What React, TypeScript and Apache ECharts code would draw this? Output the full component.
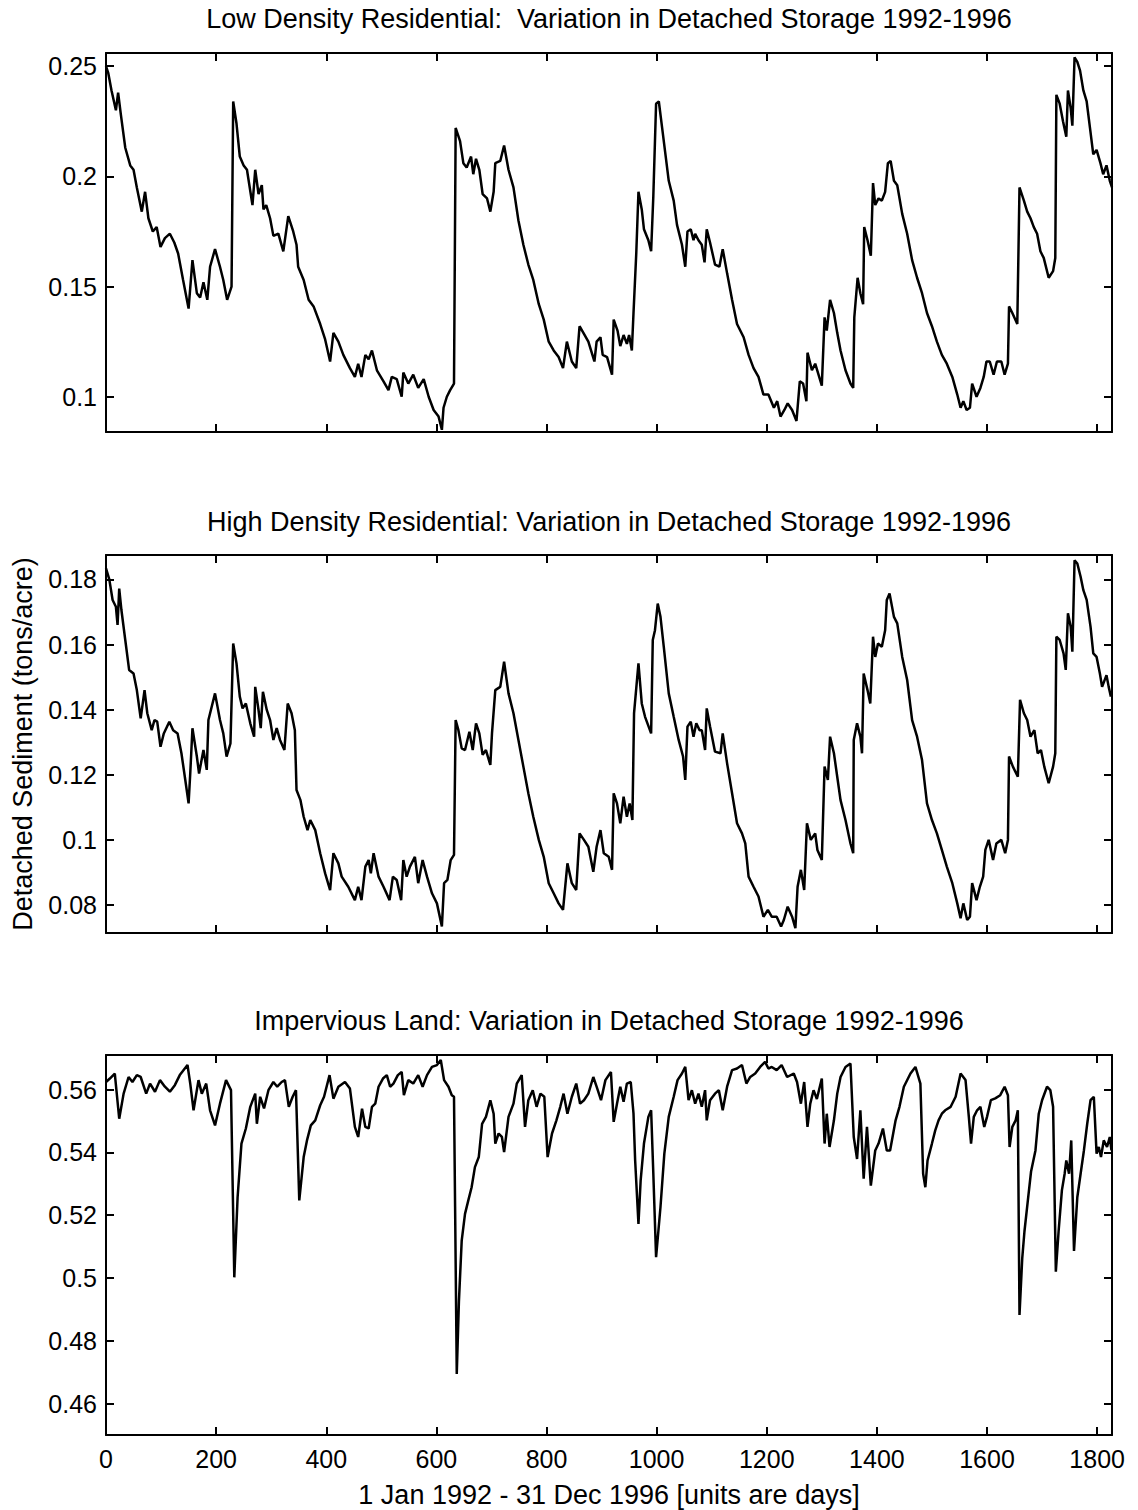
import React, { useEffect, useRef } from "react";
import * as echarts from "echarts";

// ---------- Data (days since 1 Jan 1992) ----------
const lowDays = [0,4,10,18,22,27,35,44,50,56,65,71,77,85,92,99,107,116,124,131,140,150,157,165,171,177,184,189,198,207,213,220,228,231,237,243,250,256,266,271,277,283,286,291,298,304,313,322,331,340,346,349,359,368,377,389,398,407,413,422,431,443,452,458,464,471,477,483,492,504,513,519,528,537,540,549,558,567,577,586,595,604,610,613,619,625,632,635,643,649,655,663,667,672,678,684,692,698,704,707,716,723,731,740,749,758,767,776,786,795,804,813,822,830,837,846,854,860,867,876,887,891,898,902,910,919,922,929,934,940,946,950,955,958,963,967,973,977,985,990,994,999,1004,1010,1016,1022,1031,1037,1046,1052,1056,1062,1067,1070,1076,1082,1087,1091,1097,1106,1114,1120,1128,1137,1146,1158,1167,1176,1185,1194,1203,1213,1219,1225,1232,1238,1246,1254,1260,1266,1272,1274,1282,1288,1294,1300,1305,1309,1315,1322,1328,1334,1343,1352,1357,1359,1365,1370,1375,1377,1383,1389,1393,1397,1403,1409,1415,1420,1425,1431,1437,1446,1455,1464,1473,1482,1491,1500,1509,1518,1527,1537,1546,1552,1557,1563,1569,1573,1581,1588,1594,1599,1605,1612,1618,1626,1632,1638,1640,1646,1655,1659,1667,1673,1679,1685,1691,1697,1703,1712,1720,1724,1726,1732,1738,1744,1747,1752,1755,1759,1764,1769,1775,1781,1787,1793,1799,1806,1811,1817,1823,1827];
const lowVals = [0.250,0.247,0.239,0.230,0.238,0.228,0.213,0.205,0.203,0.195,0.184,0.193,0.181,0.175,0.177,0.168,0.172,0.174,0.170,0.165,0.153,0.140,0.162,0.147,0.145,0.152,0.144,0.159,0.167,0.159,0.153,0.144,0.150,0.234,0.224,0.209,0.205,0.203,0.187,0.203,0.192,0.196,0.185,0.187,0.181,0.173,0.174,0.166,0.182,0.175,0.169,0.159,0.153,0.144,0.141,0.133,0.126,0.116,0.129,0.125,0.119,0.113,0.109,0.115,0.109,0.119,0.117,0.121,0.112,0.107,0.103,0.109,0.108,0.100,0.111,0.106,0.110,0.104,0.108,0.100,0.094,0.091,0.085,0.095,0.100,0.103,0.106,0.222,0.216,0.206,0.204,0.209,0.201,0.208,0.203,0.192,0.190,0.184,0.193,0.206,0.207,0.214,0.203,0.195,0.180,0.169,0.160,0.153,0.142,0.135,0.125,0.121,0.118,0.113,0.125,0.116,0.113,0.132,0.129,0.125,0.116,0.125,0.127,0.119,0.118,0.110,0.135,0.130,0.123,0.128,0.124,0.128,0.121,0.138,0.165,0.193,0.185,0.176,0.171,0.166,0.191,0.233,0.234,0.222,0.210,0.198,0.189,0.178,0.169,0.159,0.175,0.176,0.171,0.174,0.171,0.169,0.161,0.176,0.170,0.160,0.159,0.167,0.156,0.144,0.133,0.127,0.119,0.113,0.109,0.101,0.101,0.095,0.098,0.091,0.094,0.097,0.094,0.089,0.107,0.106,0.098,0.120,0.112,0.115,0.110,0.105,0.136,0.130,0.144,0.138,0.129,0.121,0.112,0.106,0.104,0.136,0.154,0.147,0.142,0.177,0.171,0.164,0.197,0.187,0.190,0.189,0.193,0.206,0.207,0.198,0.196,0.183,0.174,0.162,0.154,0.147,0.138,0.132,0.125,0.119,0.115,0.109,0.101,0.095,0.098,0.094,0.095,0.106,0.100,0.104,0.109,0.116,0.116,0.110,0.116,0.116,0.110,0.115,0.141,0.138,0.133,0.195,0.189,0.184,0.181,0.177,0.174,0.166,0.163,0.154,0.157,0.163,0.237,0.233,0.225,0.218,0.239,0.231,0.223,0.254,0.252,0.248,0.239,0.234,0.222,0.210,0.212,0.206,0.201,0.205,0.198,0.195];

const highDays = [0,6,12,18,21,24,28,35,42,50,56,63,70,75,83,88,93,99,105,115,122,130,137,144,150,153,157,165,169,177,183,186,198,207,213,219,226,231,237,243,248,254,262,269,271,277,281,285,292,298,304,310,316,324,330,337,343,346,353,359,366,371,380,389,398,407,413,422,428,440,452,458,464,471,477,481,486,495,504,515,521,528,536,540,546,552,561,567,575,583,592,601,610,614,620,626,632,635,640,646,652,660,666,672,678,684,690,698,701,707,716,723,731,740,749,758,767,776,786,795,804,813,822,830,838,846,854,860,868,876,885,891,898,904,913,919,922,928,934,940,946,951,956,959,967,973,979,990,993,997,1002,1007,1013,1022,1031,1040,1048,1052,1056,1062,1067,1072,1078,1082,1088,1091,1097,1106,1116,1120,1128,1137,1146,1155,1161,1167,1176,1185,1194,1202,1209,1218,1226,1231,1238,1246,1252,1256,1262,1268,1273,1280,1288,1292,1300,1305,1311,1315,1322,1328,1334,1343,1352,1357,1358,1364,1370,1373,1376,1383,1388,1393,1397,1402,1409,1415,1418,1423,1431,1437,1446,1455,1464,1473,1482,1491,1500,1509,1518,1527,1537,1546,1552,1557,1564,1569,1573,1581,1587,1593,1597,1603,1611,1617,1626,1633,1638,1640,1647,1656,1660,1667,1673,1679,1686,1692,1698,1704,1712,1720,1724,1726,1732,1739,1743,1747,1752,1755,1759,1764,1770,1775,1781,1788,1793,1799,1805,1809,1817,1821,1825];
const highVals = [0.1834,0.1800,0.1737,0.1716,0.1660,0.1772,0.1706,0.1614,0.1522,0.1511,0.1460,0.1373,0.1460,0.1389,0.1337,0.1368,0.1363,0.1286,0.1327,0.1363,0.1337,0.1327,0.1266,0.1184,0.1112,0.1204,0.1343,0.1256,0.1204,0.1276,0.1215,0.1368,0.1450,0.1368,0.1327,0.1256,0.1296,0.1603,0.1542,0.1440,0.1404,0.1419,0.1358,0.1317,0.1470,0.1399,0.1343,0.1455,0.1399,0.1368,0.1307,0.1343,0.1307,0.1276,0.1419,0.1389,0.1337,0.1153,0.1123,0.1071,0.1030,0.1061,0.1030,0.0959,0.0897,0.0846,0.0959,0.0928,0.0887,0.0856,0.0815,0.0856,0.0815,0.0918,0.0938,0.0897,0.0959,0.0887,0.0856,0.0815,0.0887,0.0877,0.0815,0.0938,0.0887,0.0918,0.0948,0.0867,0.0938,0.0887,0.0836,0.0805,0.0734,0.0867,0.0877,0.0938,0.0954,0.1368,0.1337,0.1281,0.1276,0.1332,0.1276,0.1358,0.1327,0.1261,0.1276,0.1230,0.1327,0.1460,0.1470,0.1547,0.1450,0.1389,0.1307,0.1225,0.1143,0.1071,0.1000,0.0948,0.0867,0.0836,0.0805,0.0785,0.0928,0.0867,0.0846,0.1020,0.1000,0.0979,0.0902,0.0979,0.1030,0.0959,0.0948,0.0908,0.1143,0.1112,0.1051,0.1133,0.1071,0.1112,0.1061,0.1389,0.1542,0.1419,0.1378,0.1327,0.1614,0.1644,0.1726,0.1685,0.1593,0.1450,0.1378,0.1307,0.1256,0.1184,0.1348,0.1363,0.1317,0.1358,0.1337,0.1337,0.1276,0.1404,0.1348,0.1271,0.1266,0.1327,0.1235,0.1143,0.1051,0.1020,0.0989,0.0887,0.0856,0.0826,0.0764,0.0785,0.0764,0.0764,0.0734,0.0754,0.0795,0.0764,0.0729,0.0856,0.0908,0.0846,0.1051,0.1000,0.1020,0.0969,0.0938,0.1225,0.1184,0.1317,0.1266,0.1194,0.1122,0.1061,0.0989,0.0959,0.1307,0.1358,0.1317,0.1266,0.1511,0.1460,0.1419,0.1624,0.1562,0.1603,0.1593,0.1644,0.1737,0.1757,0.1685,0.1665,0.1562,0.1491,0.1368,0.1317,0.1245,0.1112,0.1061,0.1020,0.0969,0.0918,0.0867,0.0805,0.0759,0.0805,0.0754,0.0764,0.0867,0.0815,0.0856,0.0887,0.0969,0.1000,0.0938,0.0989,0.1000,0.0959,0.1000,0.1256,0.1225,0.1194,0.1430,0.1389,0.1368,0.1317,0.1337,0.1266,0.1276,0.1225,0.1174,0.1225,0.1266,0.1624,0.1614,0.1573,0.1522,0.1696,0.1655,0.1578,0.1859,0.1849,0.1808,0.1767,0.1737,0.1655,0.1573,0.1562,0.1511,0.1470,0.1506,0.1470,0.1440];

const impDays = [0,7,16,24,32,41,48,56,63,73,80,89,98,107,116,125,134,148,153,159,168,174,182,189,198,207,218,227,233,239,246,254,262,271,274,280,287,295,304,311,319,325,332,339,345,351,359,365,372,380,389,396,406,413,422,434,443,452,458,465,471,477,483,489,495,503,510,516,522,530,537,541,549,558,567,575,583,592,601,608,614,622,628,632,634,637,641,646,652,658,664,670,677,683,690,698,704,707,713,719,723,731,740,746,755,761,767,775,782,789,796,802,810,818,825,831,838,846,854,861,868,876,885,891,899,907,917,922,928,934,940,946,953,958,961,967,971,977,985,990,994,999,1007,1014,1022,1031,1038,1046,1052,1058,1064,1070,1076,1082,1088,1091,1097,1106,1113,1120,1128,1137,1146,1155,1163,1170,1179,1188,1197,1203,1209,1218,1227,1237,1249,1255,1262,1268,1274,1279,1285,1291,1300,1305,1309,1314,1322,1328,1334,1343,1352,1358,1364,1370,1376,1382,1389,1397,1403,1411,1418,1424,1434,1441,1449,1461,1470,1479,1484,1488,1492,1500,1506,1512,1518,1524,1534,1543,1552,1561,1567,1571,1576,1582,1588,1595,1600,1607,1615,1624,1632,1638,1641,1646,1652,1656,1659,1664,1668,1674,1680,1688,1694,1700,1709,1715,1720,1725,1730,1736,1741,1744,1749,1753,1758,1764,1770,1776,1782,1788,1794,1799,1803,1807,1812,1818,1823,1826];
const impVals = [0.5624,0.5635,0.5651,0.5507,0.5587,0.5640,0.5624,0.5646,0.5640,0.5587,0.5619,0.5593,0.5630,0.5609,0.5593,0.5614,0.5646,0.5678,0.5619,0.5534,0.5630,0.5587,0.5619,0.5534,0.5486,0.5555,0.5630,0.5598,0.5002,0.5257,0.5428,0.5476,0.5545,0.5587,0.5491,0.5577,0.5540,0.5598,0.5624,0.5609,0.5624,0.5630,0.5545,0.5577,0.5598,0.5247,0.5385,0.5438,0.5486,0.5502,0.5550,0.5577,0.5646,0.5571,0.5609,0.5624,0.5603,0.5481,0.5449,0.5539,0.5481,0.5476,0.5545,0.5555,0.5609,0.5635,0.5646,0.5609,0.5619,0.5646,0.5656,0.5582,0.5630,0.5619,0.5646,0.5609,0.5646,0.5672,0.5678,0.5694,0.5630,0.5609,0.5582,0.5577,0.5226,0.4694,0.4928,0.5119,0.5204,0.5247,0.5289,0.5353,0.5385,0.5491,0.5513,0.5566,0.5523,0.5428,0.5460,0.5449,0.5401,0.5513,0.5555,0.5619,0.5646,0.5481,0.5566,0.5598,0.5545,0.5587,0.5577,0.5385,0.5460,0.5502,0.5545,0.5587,0.5523,0.5577,0.5619,0.5555,0.5566,0.5587,0.5640,0.5609,0.5566,0.5630,0.5656,0.5497,0.5555,0.5609,0.5561,0.5619,0.5624,0.5523,0.5374,0.5172,0.5311,0.5428,0.5513,0.5534,0.5332,0.5066,0.5226,0.5396,0.5513,0.5577,0.5630,0.5651,0.5672,0.5566,0.5598,0.5555,0.5587,0.5545,0.5598,0.5502,0.5566,0.5587,0.5598,0.5534,0.5609,0.5662,0.5667,0.5678,0.5619,0.5640,0.5651,0.5672,0.5688,0.5667,0.5672,0.5662,0.5678,0.5640,0.5651,0.5624,0.5555,0.5624,0.5481,0.5555,0.5598,0.5570,0.5635,0.5428,0.5523,0.5417,0.5502,0.5587,0.5640,0.5672,0.5683,0.5449,0.5379,0.5534,0.5316,0.5481,0.5294,0.5406,0.5428,0.5476,0.5406,0.5406,0.5502,0.5545,0.5609,0.5651,0.5672,0.5619,0.5332,0.5289,0.5374,0.5428,0.5470,0.5502,0.5523,0.5534,0.5545,0.5577,0.5651,0.5630,0.5513,0.5428,0.5513,0.5534,0.5545,0.5481,0.5513,0.5566,0.5572,0.5582,0.5609,0.5582,0.5417,0.5481,0.5502,0.5534,0.4882,0.5063,0.5148,0.5244,0.5339,0.5406,0.5523,0.5566,0.5609,0.5598,0.5545,0.5020,0.5148,0.5279,0.5332,0.5374,0.5332,0.5438,0.5086,0.5257,0.5332,0.5406,0.5491,0.5566,0.5577,0.5396,0.5417,0.5385,0.5438,0.5417,0.5449,0.5406];

const xTickValues = [0, 200, 400, 600, 800, 1000, 1200, 1400, 1600, 1800];
const lowTicks = [0.1, 0.15, 0.2, 0.25];
const highTicks = [0.08, 0.1, 0.12, 0.14, 0.16, 0.18];
const impTicks = [0.46, 0.48, 0.5, 0.52, 0.54, 0.56];

const titles = [
  "Low Density Residential:  Variation in Detached Storage 1992-1996",
  "High Density Residential: Variation in Detached Storage 1992-1996",
  "Impervious Land: Variation in Detached Storage 1992-1996",
];
const yLabel = "Detached Sediment (tons/acre)";
const xLabel = "1 Jan 1992 - 31 Dec 1996 [units are days]";

const FONT = "'Liberation Sans', Arial, Helvetica, sans-serif";

export default function App() {
  const ref = useRef<HTMLDivElement>(null);
  useEffect(() => {
    if (!ref.current) return;
    const chart = echarts.init(ref.current, undefined, { renderer: "svg" });

    const grids = [
      { left: 106, right: 26, top: 53, height: 379 },
      { left: 106, right: 26, top: 555, height: 378 },
      { left: 106, right: 26, top: 1055, height: 380 },
    ];
    const yRanges = [
      [0.084, 0.256],
      [0.0714, 0.1875],
      [0.45, 0.571],
    ];
    const yTicks = [lowTicks, highTicks, impTicks];
    const fmt = (v: number) => String(v);

    const lineStyle = { color: "#000", width: 2 };
    const xAxes: any[] = [];
    const yAxes: any[] = [];
    for (let g = 0; g < 3; g++) {
      for (const pos of ["bottom", "top"]) {
        const isMain = pos === "bottom";
        xAxes.push({
          type: "value",
          gridIndex: g,
          position: pos,
          min: 0,
          max: 1827,
          axisLine: { show: true, onZero: false, lineStyle },
          axisTick: { show: true, inside: true, length: 8, customValues: xTickValues, lineStyle },
          axisLabel: {
            show: isMain && g === 2,
            customValues: xTickValues,
            formatter: fmt,
            color: "#000",
            fontSize: 25,
            fontFamily: FONT,
            margin: 11,
          },
          splitLine: { show: false },
          name: isMain && g === 2 ? xLabel : "",
          nameLocation: "middle",
          nameGap: 46,
          nameTextStyle: { color: "#000", fontSize: 27, fontFamily: FONT },
        });
      }
      for (const pos of ["left", "right"]) {
        const isMain = pos === "left";
        yAxes.push({
          type: "value",
          gridIndex: g,
          position: pos,
          min: yRanges[g][0],
          max: yRanges[g][1],
          axisLine: { show: true, onZero: false, lineStyle },
          axisTick: { show: true, inside: true, length: 8, customValues: yTicks[g], lineStyle },
          axisLabel: {
            show: isMain,
            customValues: yTicks[g],
            formatter: fmt,
            color: "#000",
            fontSize: 25,
            fontFamily: FONT,
            margin: 9,
          },
          splitLine: { show: false },
          name: isMain && g === 1 ? yLabel : "",
          nameLocation: "middle",
          nameRotate: 90,
          nameGap: 70,
          nameTextStyle: { color: "#000", fontSize: 27, fontFamily: FONT },
        });
      }
    }

    const datasets = [
      [lowDays, lowVals],
      [highDays, highVals],
      [impDays, impVals],
    ];
    const series = datasets.map(([days, vals], g) => ({
      type: "line",
      xAxisIndex: g * 2,
      yAxisIndex: g * 2,
      data: days.map((d, i) => [d, vals[i]]),
      showSymbol: false,
      symbol: "none",
      lineStyle: { color: "#000", width: 2.5 },
      clip: true,
    }));

    chart.setOption({
      animation: false,
      backgroundColor: "#fff",
      title: titles.map((t, i) => ({
        text: t,
        left: 609,
        textAlign: "center",
        top: [5, 508, 1007][i],
        padding: 0,
        textStyle: { color: "#000", fontSize: 27, fontWeight: "normal", fontFamily: FONT },
      })),
      grid: grids,
      xAxis: xAxes,
      yAxis: yAxes,
      series,
    });
    return () => chart.dispose();
  }, []);
  return (
    <div
      ref={ref}
      style={{ position: "absolute", left: 0, top: 0, width: 1138, height: 1510 }}
    />
  );
}
